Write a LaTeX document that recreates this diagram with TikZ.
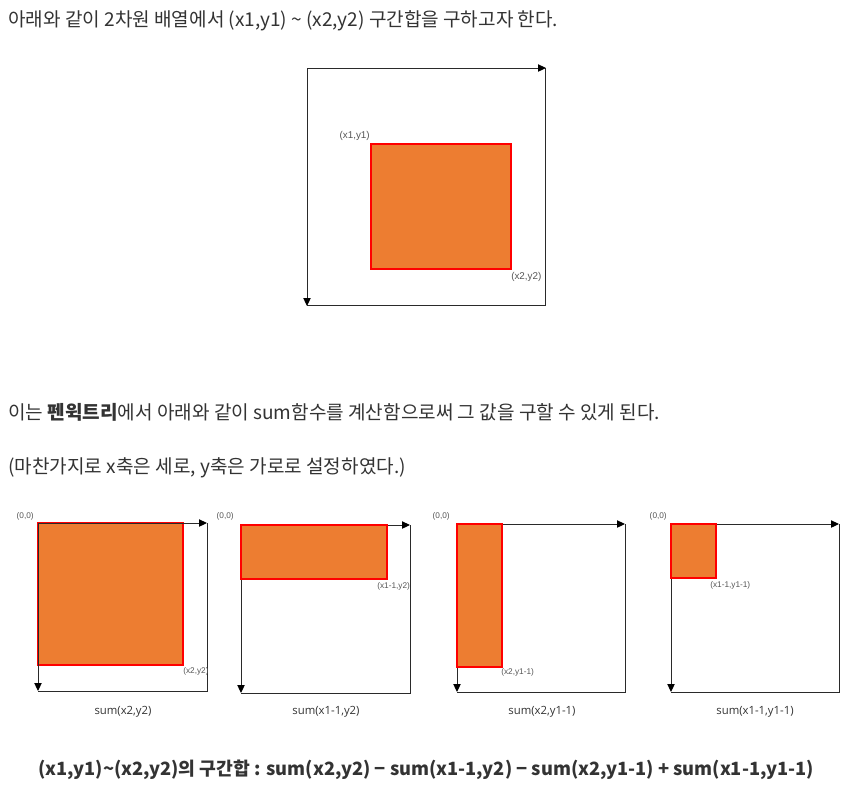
\documentclass[tikz,border=0pt]{standalone}
\usepackage{fontspec}
\setmainfont{Noto Sans CJK KR}
\newfontfamily\krfont{Noto Sans CJK KR}
\newfontfamily\lblfont{Liberation Sans}
\newfontfamily\capfont{Open Sans}
\usetikzlibrary{arrows.meta}
\definecolor{txt}{HTML}{333333}
\definecolor{lblc}{HTML}{555555}
\definecolor{org}{HTML}{ED7D31}
\definecolor{frm}{HTML}{2A2A2A}
\begin{document}
\begin{tikzpicture}[x=0.75pt,y=-0.75pt,
  frame/.style={draw=frm,line width=0.75pt},
  axis/.style={draw=frm,line width=0.75pt,-{Triangle[length=6pt,width=5.5pt,color=black]}},
  region/.style={fill=org,draw=red,line width=1.3pt},
  para/.style={anchor=base west,inner sep=0pt,text=txt,font=\krfont\fontsize{14.3pt}{17pt}\selectfont},
  bigsmall/.style={inner sep=0pt,text=lblc,font=\lblfont\fontsize{7.4pt}{8pt}\selectfont},
  small/.style={inner sep=0pt,text=lblc,font=\lblfont\fontsize{6.2pt}{7pt}\selectfont},
  caption/.style={inner sep=0pt,text=txt,font=\capfont\fontsize{8.5pt}{10pt}\selectfont},
  formula/.style={inner sep=0pt,text=txt,font=\krfont\bfseries\fontsize{13.7pt}{16pt}\selectfont}]
\useasboundingbox (0,0) rectangle (852,794);
% ---- texts ----
\node[para] (t1) at (8,26) {아래와 같이 2차원 배열에서 (x1,y1) \char"007E{} (x2,y2) 구간합을 구하고자 한다.};
\node[para] (t2) at (8,419) {이는 \textbf{펜윅트리}에서 아래와 같이 sum함수를 계산함으로써 그 값을 구할 수 있게 된다.};
\node[para] (t3) at (8,473) {(마찬가지로 x축은 세로, y축은 가로로 설정하였다.)};
\node[formula] (f) at (426,770) {(x1,y1)\char"007E(x2,y2)의 구간합 : sum(x2,y2) − sum(x1-1,y2) − sum(x2,y1-1) + sum(x1-1,y1-1)};
% ---- top diagram ----
\coordinate (A0) at (307,68); \coordinate (A1) at (546,68);
\coordinate (A2) at (545,68); \coordinate (A3) at (545,305);
\coordinate (A4) at (307,305); \coordinate (A5) at (307,306);
\draw[frame] (A2) -- (A3) -- (A4);
\draw[axis] (A0) -- (A1);
\draw[axis] (A0) -- (A5);
\path[region] (371,144) rectangle (511,269);
\node[bigsmall,anchor=south east] (L1) at (370,141) {(x1,y1)};
\node[bigsmall,anchor=north west] (L2) at (511,272) {(x2,y2)};
% ---- panel 1 ----
\path[region] (38,523) rectangle (183,665);
\coordinate (P1a) at (38,523); \coordinate (P1b) at (207,523);
\coordinate (P1c) at (207,691); \coordinate (P1d) at (38,691);
\draw[frame] (P1b) -- (P1c) -- (P1d);
\draw[axis] (P1a) -- (P1b);
\draw[axis] (P1a) -- (P1d);
\node[small,anchor=south east] (Z1) at (34,520) {(0,0)};
\node[small,anchor=north west] (E1) at (183,667) {(x2,y2)};
\node[caption] (C1) at (123,712) {sum(x2,y2)};
% ---- panel 2 ----
\coordinate (P2a) at (241,525); \coordinate (P2b) at (410,525);
\coordinate (P2c) at (410,693); \coordinate (P2d) at (241,693);
\draw[frame] (P2b) -- (P2c) -- (P2d);
\draw[axis] (P2a) -- (P2b);
\draw[axis] (P2a) -- (P2d);
\path[region] (241,525) rectangle (387,579);
\node[small,anchor=south east] (Z2) at (234,520) {(0,0)};
\node[small,anchor=north west] (E2) at (377,582) {(x1-1,y2)};
\node[caption] (C2) at (326,712) {sum(x1-1,y2)};
% ---- panel 3 ----
\coordinate (P3a) at (457,524); \coordinate (P3b) at (625,524);
\coordinate (P3c) at (625,692); \coordinate (P3d) at (457,692);
\draw[frame] (P3b) -- (P3c) -- (P3d);
\draw[axis] (P3a) -- (P3b);
\draw[axis] (P3a) -- (P3d);
\path[region] (457,524) rectangle (502,667);
\node[small,anchor=south east] (Z3) at (450,520) {(0,0)};
\node[small,anchor=north west] (E3) at (501,668) {(x2,y1-1)};
\node[caption] (C3) at (542,712) {sum(x2,y1-1)};
% ---- panel 4 ----
\coordinate (P4a) at (671,524); \coordinate (P4b) at (839,524);
\coordinate (P4c) at (839,692); \coordinate (P4d) at (671,692);
\draw[frame] (P4b) -- (P4c) -- (P4d);
\draw[axis] (P4a) -- (P4b);
\draw[axis] (P4a) -- (P4d);
\path[region] (671,524) rectangle (716,578);
\node[small,anchor=south east] (Z4) at (667,520) {(0,0)};
\node[small,anchor=north west] (E4) at (710,581) {(x1-1,y1-1)};
\node[caption] (C4) at (755,712) {sum(x1-1,y1-1)};
\end{tikzpicture}
\end{document}
